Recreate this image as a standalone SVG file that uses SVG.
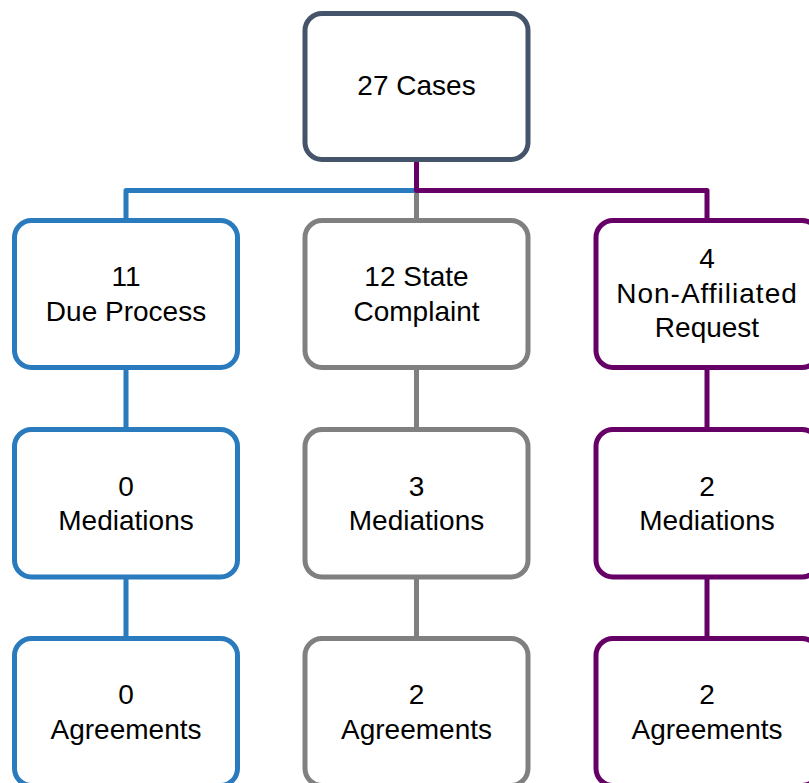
<svg xmlns="http://www.w3.org/2000/svg" width="809" height="783" viewBox="0 0 809 783">
<style>
.box{fill:#fff;stroke-width:5}
.b{stroke:#297BBE}.g{stroke:#808080}.p{stroke:#660066}.d{stroke:#44546A}
.c{fill:none;stroke-width:5;stroke-linejoin:round}
text{font-family:"Liberation Sans",Arial,sans-serif;font-size:28px;fill:#000;text-anchor:middle}
</style>
<rect width="809" height="783" fill="#fff"/>
<g id="connectors">
<path class="c b" d="M416.5,190.5 H126 V220.5"/>
<path class="c g" d="M416.5,190.5 V220.5"/>
<path class="c p" d="M416.5,159.5 V190.5 H707 V220.5"/>
<path class="c b" d="M126,367.5 V429.5 M126,577 V638.5"/>
<path class="c g" d="M416.5,367.5 V429.5 M416.5,577 V638.5"/>
<path class="c p" d="M707,367.5 V429.5 M707,577 V638.5"/>
</g>
<g id="cases"><rect class="box d" x="305" y="13.5" width="223" height="146" rx="17"/><text x="416.5" y="95">27 Cases</text></g>
<g id="due-process"><rect class="box b" x="14.5" y="220.5" width="223" height="147" rx="17"/><text x="126" y="286">11</text><text x="126" y="321">Due Process</text></g>
<g id="state-complaint"><rect class="box g" x="305" y="220.5" width="223" height="147" rx="17"/><text x="416.5" y="286">12 State</text><text x="416.5" y="321">Complaint</text></g>
<g id="non-affiliated"><rect class="box p" x="596" y="220.5" width="223" height="147" rx="17"/><text x="707" y="268">4</text><text x="707" y="303" letter-spacing="1">Non-Affiliated</text><text x="707" y="337">Request</text></g>
<g id="dp-mediations"><rect class="box b" x="14.5" y="429.5" width="223" height="147.5" rx="17"/><text x="126" y="496">0</text><text x="126" y="530">Mediations</text></g>
<g id="sc-mediations"><rect class="box g" x="305" y="429.5" width="223" height="147.5" rx="17"/><text x="416.5" y="496">3</text><text x="416.5" y="530">Mediations</text></g>
<g id="na-mediations"><rect class="box p" x="596" y="429.5" width="223" height="147.5" rx="17"/><text x="707" y="496">2</text><text x="707" y="530">Mediations</text></g>
<g id="dp-agreements"><rect class="box b" x="14.5" y="638.5" width="223" height="147" rx="17"/><text x="126" y="704">0</text><text x="126" y="739">Agreements</text></g>
<g id="sc-agreements"><rect class="box g" x="305" y="638.5" width="223" height="147" rx="17"/><text x="416.5" y="704">2</text><text x="416.5" y="739">Agreements</text></g>
<g id="na-agreements"><rect class="box p" x="596" y="638.5" width="223" height="147" rx="17"/><text x="707" y="704">2</text><text x="707" y="739">Agreements</text></g>
</svg>
